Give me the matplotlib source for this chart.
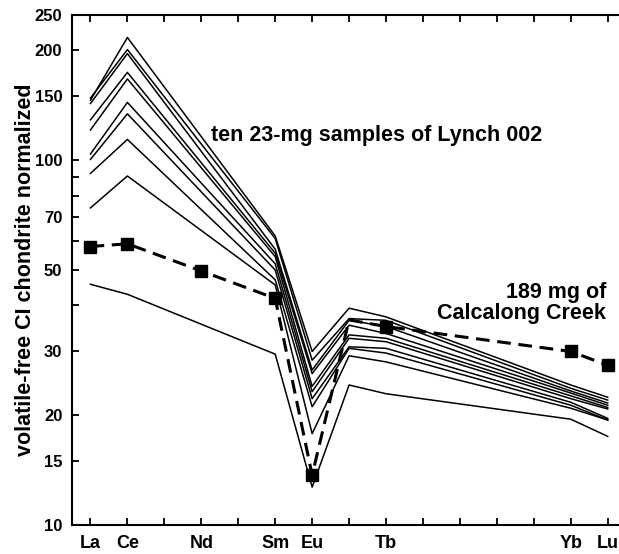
import numpy as np
import matplotlib
matplotlib.use('Agg')
import matplotlib.pyplot as plt
from matplotlib.ticker import FixedLocator, NullFormatter

plt.rcParams['font.family'] = ['Liberation Sans', 'DejaVu Sans']
plt.rcParams['font.weight'] = 'bold'

# atomic numbers on the x axis
elem_z = [57, 58, 60, 62, 63, 65, 70, 71]
elem_names = ['La', 'Ce', 'Nd', 'Sm', 'Eu', 'Tb', 'Yb', 'Lu']

# ten 23-mg samples of Lynch 002 (no Nd, Gd included)
lynch_z = [57, 58, 62, 63, 64, 65, 70, 71]
lynch_la = [146, 148, 143, 129, 121, 104, 100.5, 92, 74, 45.7]
lynch_ce = [217, 201, 196, 174, 167, 144, 134, 114, 90.5, 42.9]
lynch_sm = [62, 61, 57, 55.6, 54.4, 52, 50, 47, 45.5, 29.4]
lynch_eu = [29.9, 28.3, 26.6, 26.0, 24.0, 23.2, 22.2, 21.1, 17.8, 12.7]
lynch_gd = [39.3, 36.8, 36.4, 35.3, 33.2, 32.5, 30.8, 30.5, 29.1, 24.2]
lynch_tb = [37.2, 36.4, 35.0, 33.5, 32.5, 31.8, 30.5, 29.6, 28.0, 22.9]
lynch_yb = [24.2, 23.7, 23.3, 23.0, 22.6, 22.2, 21.7, 21.3, 20.9, 19.5]
lynch_lu = [22.4, 22.0, 21.6, 21.3, 21.0, 20.8, 19.6, 19.4, 19.4, 17.5]

# 189 mg of Calcalong Creek (Gd point drawn without marker)
cc_z = [57, 58, 60, 62, 63, 64, 65, 70, 71]
cc_val = [58, 59, 49.7, 41.8, 13.7, 36.5, 35.0, 29.9, 27.4]
cc_marked = [0, 1, 2, 3, 4, 6, 7, 8]

ytick_major = [10, 15, 20, 30, 50, 70, 100, 150, 200, 250]
ytick_minor = [40, 60, 80, 90]

fig = plt.figure(figsize=(6.19, 5.54), dpi=100)
ax = fig.add_axes([0.1163, 0.0523, 0.8834, 0.9206])

lynch = np.array([lynch_la, lynch_ce, lynch_sm, lynch_eu,
                  lynch_gd, lynch_tb, lynch_yb, lynch_lu])
for i in range(lynch.shape[1]):
    ax.plot(lynch_z, lynch[:, i], color='black', lw=1.1)

ax.plot(cc_z, cc_val, color='black', lw=2.2, dashes=(4.5, 2.5),
        marker='s', markersize=8, markevery=cc_marked)

ax.set_yscale('log')
ax.set_ylim(10, 250)
ax.set_xlim(56.5, 71.3)

ax.yaxis.set_major_locator(FixedLocator(ytick_major))
ax.set_yticklabels([str(v) for v in ytick_major])
ax.yaxis.set_minor_locator(FixedLocator(ytick_minor))
ax.yaxis.set_minor_formatter(NullFormatter())

ax.set_xticks(elem_z)
ax.set_xticklabels(elem_names)
ax.xaxis.set_minor_locator(FixedLocator(range(57, 72)))

ax.tick_params(axis='both', which='both', direction='in', width=1.3,
               top=True, right=False)
ax.tick_params(axis='both', which='major', length=5)
ax.tick_params(axis='both', which='minor', length=5)
ax.tick_params(axis='y', which='major', pad=7, labelsize=12)
ax.tick_params(axis='x', which='major', pad=7, labelsize=13)

for s in ['left', 'bottom', 'top']:
    ax.spines[s].set_linewidth(1.5)
ax.spines['right'].set_visible(False)

ax.set_ylabel('volatile-free CI chondrite normalized', fontsize=15.5,
              fontweight='bold')
ax.yaxis.set_label_coords(-0.065, 0.5)

ax.text(60.27, 116.5, 'ten 23-mg samples of Lynch 002', fontsize=15.5,
        fontweight='bold', ha='left', va='center')
ax.text(70.95, 40.6, '189 mg of\nCalcalong Creek', fontsize=15.5,
        fontweight='bold', ha='right', va='center', multialignment='right',
        linespacing=1.0)

plt.savefig('out.png', dpi=100)
